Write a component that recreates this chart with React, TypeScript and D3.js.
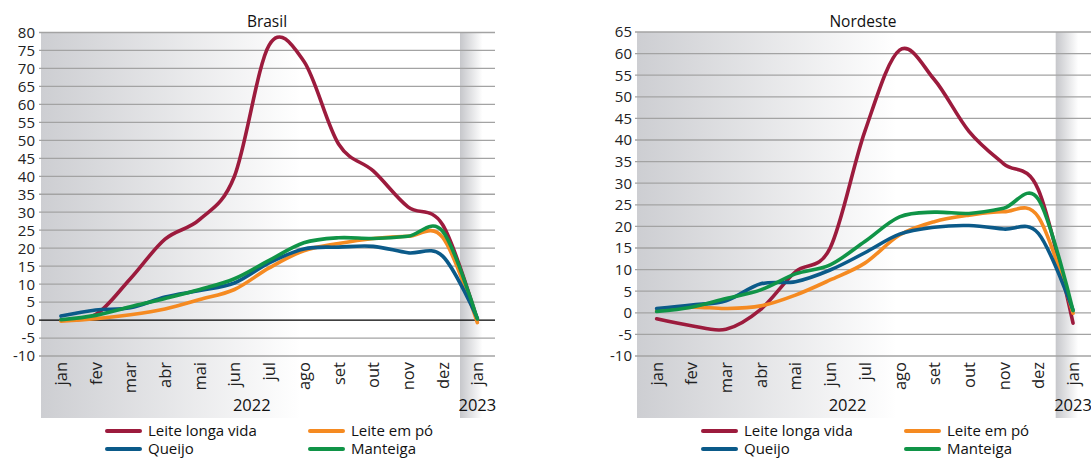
import React from "react";
import * as d3 from "d3";

const months = ["jan", "fev", "mar", "abr", "mai", "jun", "jul", "ago", "set", "out", "nov", "dez", "jan"];
const seriesNames = ["Leite longa vida", "Leite em pó", "Queijo", "Manteiga"];
const seriesColors = ["#9c1b3d", "#f58a21", "#0b5a89", "#109447"];

// Brasil
const brLonga = [0, 1.5, 11.5, 22.5, 28, 40, 76.5, 72, 49, 41.5, 31.5, 26.5, 0];
const brPo = [-0.3, 0.4, 1.5, 3.1, 5.7, 8.5, 14.5, 19.3, 21.3, 22.7, 23.3, 23, -0.7];
const brQueijo = [1.1, 2.8, 3.4, 6.4, 8.2, 10.3, 15.9, 19.8, 20.3, 20.5, 18.7, 17.8, 0.5];
const brManteiga = [0.1, 1.3, 3.7, 6.0, 8.5, 11.5, 16.6, 21.5, 22.9, 22.7, 23.3, 24.7, 0.3];
const brTicks = [80, 75, 70, 65, 60, 55, 50, 45, 40, 35, 30, 25, 20, 15, 10, 5, 0, -5, -10];

// Nordeste
const neLonga = [-1.4, -3, -3.8, 0.8, 9.5, 15, 42, 60.8, 54, 42, 34.5, 28.5, -2.4];
const nePo = [0.4, 1.3, 1.0, 1.6, 4.1, 7.6, 11.5, 18, 21.1, 22.6, 23.4, 22.2, -0.1];
const neQueijo = [1.0, 1.8, 2.8, 6.7, 7.2, 9.9, 13.9, 18.2, 19.8, 20.2, 19.4, 18.4, 0.6];
const neManteiga = [0.3, 1.3, 3.3, 5.3, 9.0, 11.1, 16.5, 22.2, 23.3, 23, 24.2, 26.3, 0.5];
const neTicks = [65, 60, 55, 50, 45, 40, 35, 30, 25, 20, 15, 10, 5, 0, -5, -10];

const FONT = "'Open Sans', sans-serif";
const FS = 16.5;
const TICK_FS = 15;
const LEGEND_FS = 15;

type ChartProps = {
  id: string;
  title: string;
  titleX: number;
  bandStart: number;
  step: number;
  gridLeft: number;
  gridRight: number;
  bgLeft: number;
  labelRight: number;
  yTop: number;
  yBottom: number;
  domain: [number, number];
  ticks: number[];
  data: number[][];
  zeroBlack: boolean;
  legendX: number;
};

function Chart(p: ChartProps) {
  const x = d3
    .scaleBand<number>()
    .domain(months.map((_, i) => i))
    .range([p.bandStart, p.bandStart + p.step * months.length]);
  const cx = (i: number) => (x(i) as number) + x.bandwidth() / 2;
  const y = d3.scaleLinear().domain(p.domain).range([p.yBottom, p.yTop]);
  const line = d3
    .line<number>()
    .x((_, i) => cx(i))
    .y((d) => y(d))
    .curve(d3.curveCatmullRom.alpha(0));
  const sep = (x(11) as number) + x.bandwidth();
  const end = p.bandStart + p.step * months.length;
  const bgBottom = 418;
  return (
    <g>
      <defs>
        <linearGradient id={p.id + "g1"} x1="0" x2="1" y1="0" y2="0">
          <stop offset="0" stopColor="#cdced2" />
          <stop offset="0.62" stopColor="#ffffff" />
          <stop offset="1" stopColor="#ffffff" />
        </linearGradient>
        <linearGradient id={p.id + "g2"} x1="0" x2="1" y1="0" y2="0">
          <stop offset="0" stopColor="#c6c7cb" />
          <stop offset="0.65" stopColor="#ffffff" />
          <stop offset="1" stopColor="#ffffff" />
        </linearGradient>
      </defs>
      <rect x={p.bgLeft} y={p.yTop} width={sep - p.bgLeft} height={bgBottom - p.yTop} fill={`url(#${p.id}g1)`} />
      <rect x={sep} y={p.yTop} width={end - sep} height={bgBottom - p.yTop} fill={`url(#${p.id}g2)`} />
      {p.ticks.map((t) => (
        <line
          key={t}
          x1={p.gridLeft}
          x2={p.gridRight}
          y1={y(t)}
          y2={y(t)}
          stroke={t === 0 && p.zeroBlack ? "#000" : "#a3a3a3"}
          strokeWidth={1.3}
        />
      ))}
      {p.ticks.map((t) => (
        <text key={"l" + t} x={p.labelRight} y={y(t)} dy="0.36em" textAnchor="end" fontSize={TICK_FS} fontFamily={FONT} fill="#222">
          {t}
        </text>
      ))}
      <text x={p.titleX} y={27} textAnchor="middle" fontSize={15.5} fontFamily={FONT} fill="#111">
        {p.title}
      </text>
      {months.map((m, i) => (
        <text
          key={"m" + i}
          transform={`translate(${cx(i)},${y(p.domain[0]) + 6}) rotate(-90)`}
          dy="0.36em"
          textAnchor="end"
          fontSize={FS}
          fontFamily={FONT}
          fill="#222"
        >
          {m}
        </text>
      ))}
      <text x={(p.bandStart + sep) / 2} y={411} textAnchor="middle" fontSize={FS} fontFamily={FONT} fill="#111">
        2022
      </text>
      <text x={cx(12)} y={411} textAnchor="middle" fontSize={FS} fontFamily={FONT} fill="#111">
        2023
      </text>
      {p.data.map((s, k) => (
        <path key={"s" + k} d={line(s) || ""} fill="none" stroke={seriesColors[k]} strokeWidth={3.6} strokeLinejoin="round" strokeLinecap="round" />
      ))}
      {seriesNames.map((n, k) => {
        const lx = p.legendX + (k % 2) * 203;
        const ly = 431 + Math.floor(k / 2) * 18;
        return (
          <g key={"lg" + k}>
            <line x1={lx} x2={lx + 33} y1={ly} y2={ly} stroke={seriesColors[k]} strokeWidth={4} strokeLinecap="round" />
            <text x={lx + 41} y={ly} dy="0.36em" fontSize={LEGEND_FS} fontFamily={FONT} fill="#111">
              {n}
            </text>
          </g>
        );
      })}
    </g>
  );
}

export default function App() {
  return (
    <svg width={1091} height={460} style={{ position: "absolute", left: 0, top: 0, background: "#fff" }}>
      <Chart
        id="br"
        title="Brasil"
        titleX={267}
        bandStart={43.6}
        step={34.7}
        gridLeft={39}
        gridRight={495}
        bgLeft={41}
        labelRight={35}
        yTop={32.5}
        yBottom={356}
        domain={[-10, 80]}
        ticks={brTicks}
        data={[brLonga, brPo, brQueijo, brManteiga]}
        zeroBlack={true}
        legendX={107}
      />
      <Chart
        id="ne"
        title="Nordeste"
        titleX={863}
        bandStart={639.3}
        step={34.7}
        gridLeft={635}
        gridRight={1091}
        bgLeft={637}
        labelRight={632}
        yTop={32}
        yBottom={356}
        domain={[-10, 65]}
        ticks={neTicks}
        data={[neLonga, nePo, neQueijo, neManteiga]}
        zeroBlack={false}
        legendX={703}
      />
    </svg>
  );
}
